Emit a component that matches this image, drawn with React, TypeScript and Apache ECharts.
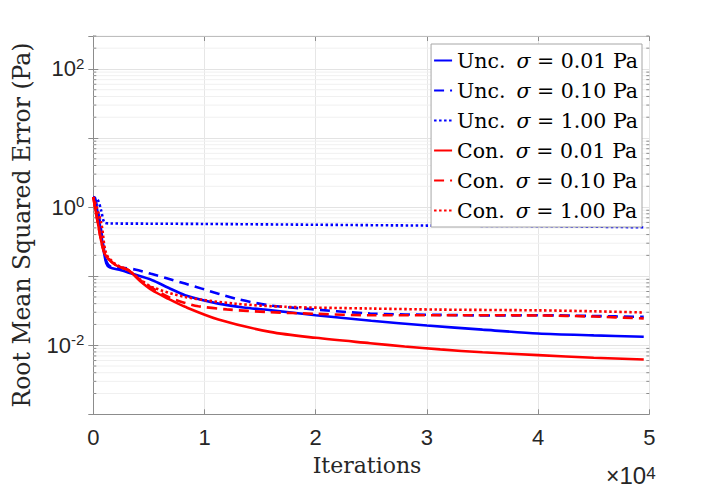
import React, { useEffect, useRef } from "react";
import * as echarts from "echarts";

// Iteration positions and RMSE values
const unc001X = [0, 120, 570, 870, 1170, 1470, 2500, 3500, 5250, 6750, 8250, 11250, 13500, 16000, 20000, 25000, 30000, 35000, 40000, 45000, 49500];
const unc001Y = [1.4, 1.35, 0.58, 0.27, 0.153, 0.134, 0.122, 0.108, 0.088, 0.068, 0.053, 0.04, 0.0352, 0.032, 0.0272, 0.0226, 0.0193, 0.0168, 0.0148, 0.0139, 0.0133];

const unc010X = [0, 150, 600, 900, 1200, 1600, 2600, 3750, 5200, 6750, 8250, 9750, 12750, 15750, 18900, 24900, 31200, 36000, 40000, 45000, 49500];
const unc010Y = [1.4, 1.36, 0.6, 0.28, 0.16, 0.136, 0.132, 0.125, 0.108, 0.092, 0.078, 0.066, 0.0475, 0.038, 0.034, 0.0288, 0.0275, 0.027, 0.0272, 0.0265, 0.0257];

const unc100X = [0, 400, 700, 1000, 1500, 5000, 10000, 20000, 30000, 40000, 49500];
const unc100Y = [1.38, 1.27, 0.9, 0.6, 0.58, 0.575, 0.57, 0.555, 0.54, 0.53, 0.51];

const con001X = [0, 420, 1020, 2000, 3150, 4200, 5250, 6750, 8250, 11250, 15900, 20000, 24900, 28000, 31200, 35000, 40000, 45000, 49500];
const con001Y = [1.4, 0.58, 0.213, 0.145, 0.122, 0.085, 0.063, 0.047, 0.036, 0.0236, 0.0156, 0.0128, 0.0107, 0.0096, 0.0087, 0.0079, 0.0072, 0.0066, 0.0062];

const con010X = [0, 420, 1020, 2000, 3150, 4200, 5250, 6750, 8250, 9450, 12000, 15750, 20000, 24900, 31200, 40000, 45000, 49500];
const con010Y = [1.4, 0.58, 0.213, 0.145, 0.122, 0.088, 0.068, 0.05, 0.041, 0.0367, 0.033, 0.0302, 0.0285, 0.0272, 0.0272, 0.027, 0.026, 0.0244];

const con100X = [0, 720, 1170, 2000, 3150, 4200, 5250, 8250, 12750, 17250, 24900, 31200, 40000, 45000, 49500];
const con100Y = [1.4, 0.58, 0.21, 0.15, 0.122, 0.09, 0.07, 0.05, 0.04, 0.036, 0.034, 0.0328, 0.032, 0.031, 0.0298];

const seriesNames = [
  "Unc. σ = 0.01 Pa",
  "Unc. σ = 0.10 Pa",
  "Unc. σ = 1.00 Pa",
  "Con. σ = 0.01 Pa",
  "Con. σ = 0.10 Pa",
  "Con. σ = 1.00 Pa",
];

const xTickLabels = ["0", "1", "2", "3", "4", "5"];
const yMin = 0.001;
const yMax = 300;
const xMax = 50000;

const SERIF = "'DejaVu Serif', 'Liberation Serif', serif";
const SANS = "'Liberation Sans', Arial, Helvetica, sans-serif";

const zip = (xs: number[], ys: number[]) => xs.map((x, i) => [x, ys[i]]);

// minor log grid values 2..9 x 10^k inside the axis range
const minorVals: number[] = [];
for (let e = -3; e <= 2; e++) {
  for (let k = 2; k <= 9; k++) {
    const v = k * Math.pow(10, e);
    if (v < yMax * 1.0001) minorVals.push(v);
  }
}

const dashed = [10, 6];
const dotted = [2.5, 2.5];
const AXIS = "#8c8c8c";
const TXT = "#262626";
const LEG = 20.5;

export default function App() {
  const ref = useRef<HTMLDivElement>(null);
  useEffect(() => {
    if (!ref.current) return;
    const chart = echarts.init(ref.current, undefined, { renderer: "svg" });

    const lineSeries = (name: string, xs: number[], ys: number[], color: string, type: any) => ({
      name,
      type: "line",
      data: zip(xs, ys),
      showSymbol: false,
      symbol: "none",
      smooth: 0.3,
      lineStyle: { color, width: 2.6, type, cap: "butt" },
      itemStyle: { color },
      z: 3,
    });

    const option: any = {
      animation: false,
      backgroundColor: "#ffffff",
      grid: { left: 93.3, right: 68.7, top: 36, bottom: 74.7 },
      legend: {
        orient: "vertical",
        right: 76,
        top: 44,
        backgroundColor: "#ffffff",
        borderColor: "#a6a6a6",
        borderWidth: 1,
        borderRadius: 0,
        padding: [6, 4, 6, 2],
        itemGap: 9,
        itemWidth: 18,
        itemHeight: 12,
        itemStyle: { opacity: 0 },
        data: seriesNames,
        formatter: (name: string) => {
          const [pre, post] = name.split("σ");
          return `{t|${pre.trim()}}{g| }{s|σ}{t|${post}}`;
        },
        textStyle: {
          fontFamily: SERIF,
          fontSize: LEG,
          color: "#000000",
          lineHeight: 20,
          rich: {
            t: { fontFamily: SERIF, fontSize: LEG, color: "#000000", lineHeight: 20 },
            s: { fontFamily: SERIF, fontSize: LEG, fontStyle: "italic", color: "#000000", lineHeight: 20 },
            g: { fontFamily: SERIF, fontSize: LEG, lineHeight: 20, width: 11 },
          },
        },
      },
      xAxis: [
        {
          type: "value",
          position: "bottom",
          min: 0,
          max: xMax,
          interval: 10000,
          axisLine: { show: true, lineStyle: { color: AXIS, width: 1 } },
          axisTick: { show: true, inside: true, length: 5, lineStyle: { color: AXIS } },
          axisLabel: {
            formatter: (v: number) => xTickLabels[Math.round(v / 10000)] ?? "",
            fontFamily: SANS,
            fontSize: 22,
            color: TXT,
            margin: 12,
          },
          splitLine: { show: true, lineStyle: { color: "#e6e6e6", width: 1 } },
        },
        {
          type: "value",
          position: "top",
          min: 0,
          max: xMax,
          interval: 10000,
          axisLine: { show: true, lineStyle: { color: AXIS, width: 1 } },
          axisTick: { show: true, inside: true, length: 5, lineStyle: { color: AXIS } },
          axisLabel: { show: false },
          splitLine: { show: false },
        },
      ],
      yAxis: [
        {
          type: "log",
          logBase: 10,
          position: "left",
          min: yMin,
          max: yMax,
          axisLine: { show: true, lineStyle: { color: AXIS, width: 1 } },
          axisTick: { show: true, inside: true, length: 5, lineStyle: { color: AXIS } },
          axisLabel: {
            margin: 9,
            formatter: (v: number) => {
              const e = Math.round(Math.log10(v));
              if (Math.abs(v - Math.pow(10, e)) > 1e-6 * v) return "";
              if (e % 2 !== 0) return "";
              return `{b|10}{sup|${e}}`;
            },
            rich: {
              b: { fontFamily: SANS, fontSize: 22, color: TXT, lineHeight: 26 },
              sup: { fontFamily: SANS, fontSize: 15, color: TXT, lineHeight: 15, verticalAlign: "top" },
            },
          },
          splitLine: { show: true, lineStyle: { color: "#e3e3e3", width: 1 } },
        },
        {
          type: "log",
          logBase: 10,
          position: "right",
          min: yMin,
          max: yMax,
          axisLine: { show: true, lineStyle: { color: AXIS, width: 1 } },
          axisTick: { show: true, inside: true, length: 5, lineStyle: { color: AXIS } },
          axisLabel: { show: false },
          splitLine: { show: false },
        },
      ],
      graphic: [
        {
          type: "text",
          x: 22,
          y: 225,
          rotation: Math.PI / 2,
          style: {
            text: "Root Mean Squared Error (Pa)",
            font: `23.5px ${SERIF}`,
            fill: TXT,
            textAlign: "center",
            textVerticalAlign: "middle",
          },
        },
        {
          type: "text",
          x: 367,
          y: 465,
          style: {
            text: "Iterations",
            font: `22px ${SERIF}`,
            fill: TXT,
            textAlign: "center",
            textVerticalAlign: "middle",
          },
        },
        {
          type: "text",
          x: 606,
          y: 476,
          style: {
            text: "{m|×}{b|10}{sup|4}",
            textVerticalAlign: "middle",
            rich: {
              m: { fontFamily: SANS, fontSize: 23, fill: TXT, lineHeight: 22, verticalAlign: "bottom" },
              b: { fontFamily: SANS, fontSize: 24, fill: TXT, lineHeight: 22, verticalAlign: "bottom" },
              sup: { fontFamily: SANS, fontSize: 17, fill: TXT, lineHeight: 14, verticalAlign: "top" },
            },
          },
        },
      ],
      series: [
        {
          name: "minor-grid",
          type: "custom",
          xAxisIndex: 0,
          yAxisIndex: 0,
          silent: true,
          z: 1,
          data: minorVals.map((v) => [0, v]),
          encode: { x: 0, y: 1 },
          renderItem: (params: any, api: any) => {
            const cs = params.coordSys;
            const y = api.coord([0, api.value(1)])[1];
            const x0 = cs.x;
            const x1 = cs.x + cs.width;
            return {
              type: "group",
              children: [
                { type: "line", shape: { x1: x0, y1: y, x2: x1, y2: y }, style: { stroke: "#f0f0f0", lineWidth: 1 } },
                { type: "line", shape: { x1: x0, y1: y, x2: x0 + 3, y2: y }, style: { stroke: AXIS, lineWidth: 1 } },
                { type: "line", shape: { x1: x1 - 3, y1: y, x2: x1, y2: y }, style: { stroke: AXIS, lineWidth: 1 } },
              ],
            };
          },
        },
        lineSeries(seriesNames[0], unc001X, unc001Y, "#0000ff", "solid"),
        lineSeries(seriesNames[1], unc010X, unc010Y, "#0000ff", dashed),
        lineSeries(seriesNames[2], unc100X, unc100Y, "#0000ff", dotted),
        lineSeries(seriesNames[3], con001X, con001Y, "#ff0000", "solid"),
        lineSeries(seriesNames[4], con010X, con010Y, "#ff0000", dashed),
        lineSeries(seriesNames[5], con100X, con100Y, "#ff0000", dotted),
      ],
    };
    chart.setOption(option);
    return () => chart.dispose();
  }, []);

  return (
    <div
      ref={ref}
      style={{ position: "fixed", left: 0, top: 0, width: 718, height: 489, background: "#fff" }}
    />
  );
}
